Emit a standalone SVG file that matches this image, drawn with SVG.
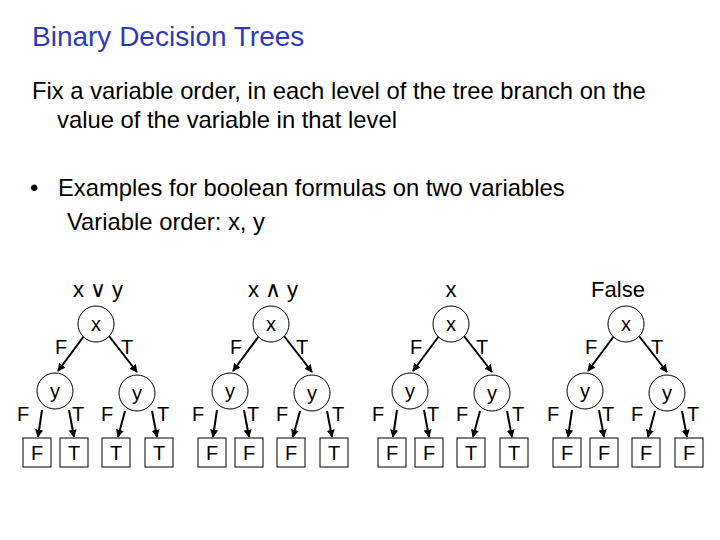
<svg xmlns="http://www.w3.org/2000/svg" width="720" height="540" viewBox="0 0 720 540">
<style>
text{font-family:"Liberation Sans",Arial,sans-serif;fill:#000}
.t{font-size:28px;fill:#2e3ab8}
.b{font-size:23.8px}
.n{font-size:20px;text-anchor:middle}
.l{font-size:20px;text-anchor:middle}
circle,rect{fill:#fff;stroke:#000;stroke-width:1}
.e line{stroke:#000;stroke-width:2;marker-end:url(#a)}
</style>
<defs>
<marker id="a" viewBox="0 0 10 10" refX="9" refY="5" markerWidth="4" markerHeight="4" orient="auto"><path d="M0,0L10,5L0,10z" fill="#000"/></marker>
<g id="tree">
<g class="e">
<line x1="84" y1="336" x2="58" y2="371"/>
<line x1="109" y1="336" x2="137" y2="372"/>
<line x1="42" y1="410" x2="38" y2="437"/>
<line x1="69" y1="410" x2="74" y2="437"/>
<line x1="125" y1="411" x2="118" y2="437"/>
<line x1="152" y1="411" x2="157" y2="437"/>
</g>
<circle cx="96" cy="324" r="18"/><text class="n" x="96" y="331">x</text>
<circle cx="55" cy="391" r="18"/><text class="n" x="55" y="398">y</text>
<circle cx="137" cy="393" r="18"/><text class="n" x="137" y="400">y</text>
<text class="l" x="61" y="354">F</text><text class="l" x="127" y="354">T</text>
<text class="l" x="23" y="421">F</text><text class="l" x="78" y="421">T</text>
<text class="l" x="107" y="421">F</text><text class="l" x="163" y="421">T</text>
<rect x="23" y="438" width="28" height="29"/>
<rect x="60" y="438" width="28" height="29"/>
<rect x="102" y="438" width="28" height="29"/>
<rect x="145" y="438" width="28" height="29"/>
</g>
</defs>
<text class="t" x="32" y="46">Binary Decision Trees</text>
<text class="b" x="32" y="99">Fix a variable order, in each level of the tree branch on the</text>
<text class="b" x="57" y="128">value of the variable in that level</text>
<text class="b" x="30" y="196">•</text>
<text class="b" x="58" y="196">Examples for boolean formulas on two variables</text>
<text class="b" x="67" y="230">Variable order: x, y</text>
<g id="t1"><use href="#tree"/>
<text class="l" x="98" y="297" style="font-size:22px">x ∨ y</text>
<text class="n" x="37" y="460">F</text><text class="n" x="74" y="460">T</text><text class="n" x="116" y="460">T</text><text class="n" x="159" y="460">T</text></g>
<g id="t2" transform="translate(175,0)"><use href="#tree"/>
<text class="l" x="98" y="297" style="font-size:22px">x ∧ y</text>
<text class="n" x="37" y="460">F</text><text class="n" x="74" y="460">F</text><text class="n" x="116" y="460">F</text><text class="n" x="159" y="460">T</text></g>
<g id="t3" transform="translate(355,0)"><use href="#tree"/>
<text class="l" x="96" y="297" style="font-size:22px">x</text>
<text class="n" x="37" y="460">F</text><text class="n" x="74" y="460">F</text><text class="n" x="116" y="460">T</text><text class="n" x="159" y="460">T</text></g>
<g id="t4" transform="translate(530,0)"><use href="#tree"/>
<text class="l" x="88" y="297" style="font-size:22px">False</text>
<text class="n" x="37" y="460">F</text><text class="n" x="74" y="460">F</text><text class="n" x="116" y="460">F</text><text class="n" x="159" y="460">F</text></g>
</svg>
